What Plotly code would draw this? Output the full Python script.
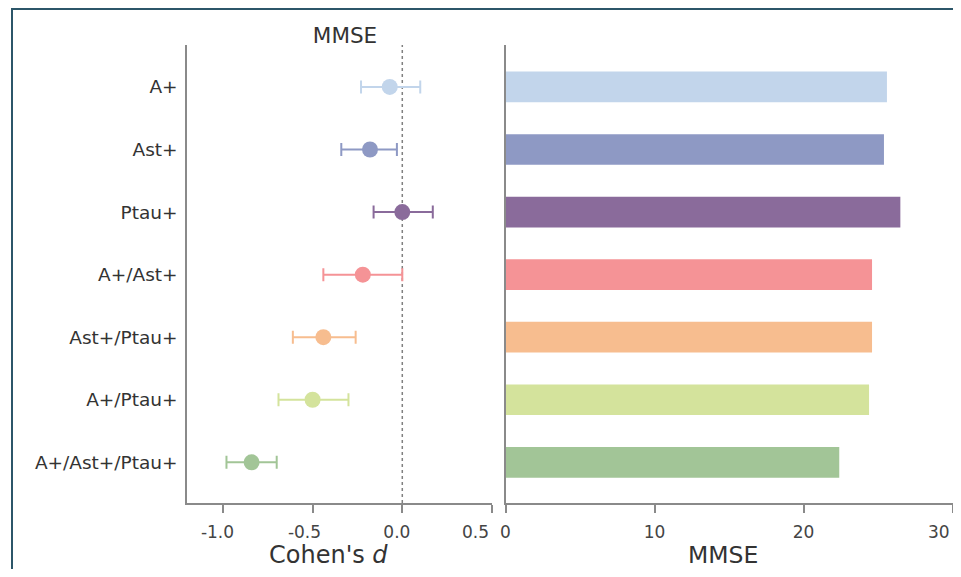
import plotly.graph_objects as go

W, H = 961, 577
OFF = 8  # default page body margin
FW, FH = W - 2 * OFF, H - 2 * OFF

groups = ["A+", "Ast+", "Ptau+", "A+/Ast+", "Ast+/Ptau+", "A+/Ptau+", "A+/Ast+/Ptau+"]
cohens_d = [-0.07, -0.18, 0.0, -0.22, -0.44, -0.50, -0.84]
ci_low = [-0.23, -0.34, -0.16, -0.44, -0.61, -0.69, -0.98]
ci_high = [0.10, -0.03, 0.17, 0.0, -0.26, -0.30, -0.70]
mmse = [25.6, 25.4, 26.5, 24.6, 24.6, 24.4, 22.4]
colors = ["#c2d5eb", "#8e99c4", "#8a6b9b", "#f59396", "#f7bd8f", "#d4e39c", "#a2c597"]
d_ticks = [-1.0, -0.5, 0.0, 0.5]
d_ticklabels = ["-1.0", "-0.5", "0.0", "0.5"]
mmse_ticks = [0, 10, 20, 30]
mmse_ticklabels = ["0", "10", "20", "30"]

NB = "\u00a0"
# small leftward nudges of inner tick labels (as in the source figure)
d_text = [d_ticklabels[0] + NB * 2, d_ticklabels[1] + NB * 3, d_ticklabels[2] + NB * 2, ""]
m_text = mmse_ticklabels[:-1] + [""]

fig = go.Figure()

for g, d, lo, hi, c in zip(groups, cohens_d, ci_low, ci_high, colors):
    fig.add_trace(go.Scatter(
        x=[d], y=[g], mode="markers",
        marker=dict(size=16, color=c),
        error_x=dict(type="data", symmetric=False,
                     array=[hi - d], arrayminus=[d - lo],
                     color=c, thickness=2, width=6.5),
        xaxis="x", yaxis="y", showlegend=False, name=g,
    ))

fig.add_trace(go.Bar(
    x=mmse, y=groups, orientation="h",
    marker=dict(color=colors, line=dict(width=0)),
    width=0.49, xaxis="x2", yaxis="y2", showlegend=False,
))

px = lambda v: (v - OFF) / FW
py = lambda v: 1 - (v - OFF) / FH

axis_col = "#8a8a8a"
yrange = [6.65, -0.67]
FONT = "DejaVu Sans, Liberation Sans, Arial, sans-serif"
tickfont = dict(size=17, color="#444")

fig.update_layout(
    width=FW, height=FH,
    margin=dict(l=0, r=0, t=0, b=0),
    paper_bgcolor="white", plot_bgcolor="white",
    font=dict(family=FONT, color="#333"),
    xaxis=dict(
        domain=[px(187), px(492)], range=[-1.2, 0.5],
        tickvals=d_ticks, ticktext=d_text,
        showline=True, linecolor=axis_col, linewidth=1.5,
        ticks="outside", ticklen=8, tickwidth=1.5, tickcolor=axis_col,
        ticklabelstandoff=5, ticklabeloverflow="allow",
        showgrid=False, zeroline=False, automargin=False,
        tickfont=tickfont,
        anchor="y",
    ),
    yaxis=dict(
        domain=[py(503), py(45)], range=yrange,
        type="category", categoryorder="array", categoryarray=groups,
        showline=True, linecolor=axis_col, linewidth=1.5,
        ticks="", ticklabelstandoff=4,
        showgrid=False, zeroline=False, automargin=False,
        tickfont=dict(size=18.5, color="#333"),
        anchor="x",
    ),
    xaxis2=dict(
        domain=[px(505.5), px(952.5)], range=[0, 30],
        tickvals=mmse_ticks, ticktext=m_text,
        showline=True, linecolor=axis_col, linewidth=1.5,
        ticks="outside", ticklen=8, tickwidth=1.5, tickcolor=axis_col,
        ticklabelstandoff=5, ticklabeloverflow="allow",
        showgrid=False, zeroline=False, automargin=False,
        tickfont=tickfont,
        anchor="y2",
    ),
    yaxis2=dict(
        domain=[py(503), py(45)], range=yrange,
        type="category", categoryorder="array", categoryarray=groups,
        showline=True, linecolor=axis_col, linewidth=1.5,
        showticklabels=False, ticks="",
        showgrid=False, zeroline=False, automargin=False,
        anchor="x2",
    ),
    title=dict(text="MMSE", x=px(345), y=py(35), xanchor="center", yanchor="middle",
               font=dict(size=21.5, color="#333")),
    bargap=0.5,
    annotations=[
        # end tick labels, nudged inward to avoid colliding with neighbours / edge
        dict(text=d_ticklabels[-1], xref="x", yref="paper", x=d_ticks[-1], y=py(532),
             xanchor="right", yanchor="middle", xshift=-1, showarrow=False, font=tickfont),
        dict(text=mmse_ticklabels[-1], xref="x2", yref="paper", x=mmse_ticks[-1], y=py(532),
             xanchor="right", yanchor="middle", xshift=-1, showarrow=False, font=tickfont),
        dict(text="Cohen's <i>d</i>", xref="paper", yref="paper", x=px(328), y=py(555),
             xanchor="center", yanchor="middle", showarrow=False,
             font=dict(size=24, color="#333")),
        dict(text="MMSE", xref="paper", yref="paper", x=px(723), y=py(555),
             xanchor="center", yanchor="middle", showarrow=False,
             font=dict(size=23.5, color="#333")),
    ],
)

# zero reference line on Cohen's d panel
fig.add_shape(type="line", xref="x", yref="y domain", x0=0, x1=0, y0=0, y1=1,
              line=dict(color="#808080", width=1.5, dash="dot"), layer="below")

# outer frame
fig.add_shape(type="rect", xref="paper", yref="paper",
              x0=px(12), x1=1.05, y0=-0.1, y1=py(9),
              line=dict(color="#2c5669", width=2), fillcolor="rgba(0,0,0,0)")

fig.write_html("out.html")
